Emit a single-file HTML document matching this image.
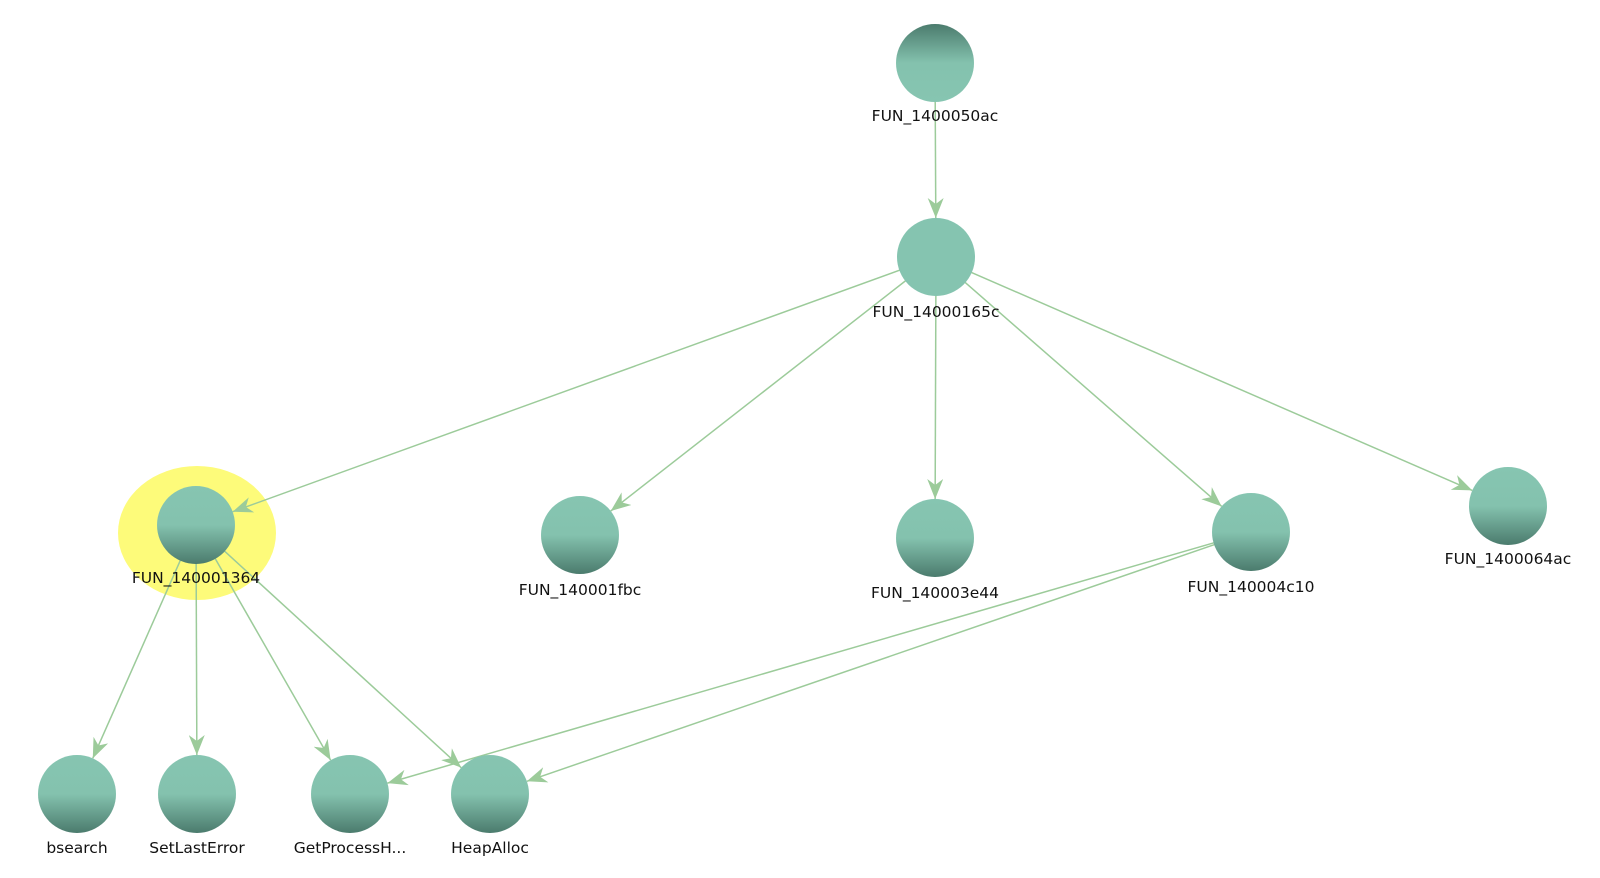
<!DOCTYPE html>
<html><head><meta charset="utf-8"><style>
html,body{margin:0;padding:0;background:#fff;}
svg{display:block;}
text{font-family:"DejaVu Sans","Liberation Sans",sans-serif;font-size:15.5px;fill:#111;text-anchor:middle;}
</style></head><body>
<svg id="s" width="1600" height="878" viewBox="0 0 1600 878" xmlns="http://www.w3.org/2000/svg">
<defs>
<linearGradient id="g" x1="0" y1="0" x2="0" y2="1">
<stop offset="0" stop-color="#86c5b1"/><stop offset="0.5" stop-color="#84c2ae"/><stop offset="1" stop-color="#4b7b6d"/>
</linearGradient>
<linearGradient id="gi" x1="0" y1="0" x2="0" y2="1">
<stop offset="0" stop-color="#4b7b6d"/><stop offset="0.5" stop-color="#84c2ae"/><stop offset="1" stop-color="#86c5b1"/>
</linearGradient>
<marker id="a" markerUnits="userSpaceOnUse" markerWidth="22" markerHeight="16" refX="20" refY="8" orient="auto">
<path d="M0,0 L20,8 L0,16 L6,8 z" fill="#9ccb9a"/>
</marker>
</defs>
<ellipse cx="197" cy="533" rx="79" ry="67" fill="#fdfb7a"/>
<g id="edges" stroke="#9ccb9a" stroke-width="1.5" fill="none"></g>
<g id="nodes"></g>
</svg>
<script>
var N={
a:[935,63,"FUN_1400050ac",116,"gi"],
b:[936,257,"FUN_14000165c",312,"g",1],
c:[196,525,"FUN_140001364",578,"g"],
d:[580,535,"FUN_140001fbc",590,"g"],
e:[935,538,"FUN_140003e44",593,"g"],
f:[1251,532,"FUN_140004c10",587,"g"],
h:[1508,506,"FUN_1400064ac",559,"g"],
i:[77,794,"bsearch",848,"g"],
j:[197,794,"SetLastError",848,"g"],
k:[350,794,"GetProcessH...",848,"g"],
l:[490,794,"HeapAlloc",848,"g"]};
var E=[["a","b"],["b","c"],["b","d"],["b","e"],["b","f"],["b","h"],["c","i"],["c","j"],["c","k"],["c","l"],["f","k"],["f","l"]];
var R=39,ns="http://www.w3.org/2000/svg",eg=document.getElementById("edges"),ng=document.getElementById("nodes");
E.forEach(function(p){var s=N[p[0]],t=N[p[1]];var dx=t[0]-s[0],dy=t[1]-s[1],L=Math.hypot(dx,dy);
var ln=document.createElementNS(ns,"line");ln.setAttribute("x1",s[0]+dx/L*R*0.9);ln.setAttribute("y1",s[1]+dy/L*R*0.9);
ln.setAttribute("x2",t[0]-dx/L*R);ln.setAttribute("y2",t[1]-dy/L*R);ln.setAttribute("marker-end","url(#a)");eg.appendChild(ln);});
for(var k in N){var n=N[k];var c=document.createElementNS(ns,"circle");c.setAttribute("cx",n[0]);c.setAttribute("cy",n[1]);c.setAttribute("r",R);
c.setAttribute("fill",n[5]?"#85c4b0":"url(#"+n[4]+")");ng.appendChild(c);
var t=document.createElementNS(ns,"text");t.setAttribute("x",n[0]);t.setAttribute("y",n[3]+5);t.textContent=n[2];ng.appendChild(t);}
</script>
</body></html>
